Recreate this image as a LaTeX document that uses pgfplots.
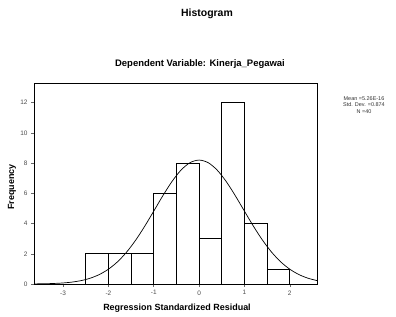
\documentclass[border=0pt]{standalone}
\usepackage{fontspec}
\setmainfont{Liberation Sans}
\usepackage{pgfplots}
\pgfplotsset{compat=1.18}
\begin{document}
\begin{tikzpicture}[x=1bp,y=1bp]
\path[use as bounding box] (0,0) rectangle (396,317);
\begin{axis}[
  at={(34bp,33bp)}, anchor=south west,
  scale only axis, width=283bp, height=201bp,
  xmin=-3.64, xmax=2.6, ymin=0, ymax=13.3,
  xtick={-3,-2,-1,0,1,2}, ytick={0,2,4,6,8,10,12},
  tick align=outside, tick pos=left,
  major tick length=3bp,
  tick style={black!60, line width=0.5pt},
  ticklabel style={font=\fontsize{6.5}{7.5}\selectfont, text=black!70},
  /pgf/number format/assume math mode=true,
  axis line style={black, line width=0.6pt},
  clip=true,
]
\addplot[ybar interval, fill=white, draw=black, line width=0.7pt] coordinates {
(-2.5,2) (-2,2) (-1.5,2) (-1,6) (-0.5,8) (0,3) (0.5,12) (1,4) (1.5,1) (2,1)};
\addplot[black, line width=0.7pt, smooth] coordinates {
(-3.64,0.007) (-3.4,0.018) (-3.2,0.036) (-3.0,0.069) (-2.8,0.127) (-2.6,0.226)
(-2.4,0.384) (-2.2,0.626) (-2.0,0.979) (-1.8,1.465) (-1.6,2.104) (-1.4,2.894)
(-1.2,3.816) (-1.0,4.820) (-0.8,5.836) (-0.6,6.772) (-0.4,7.532) (-0.2,8.028)
(0,8.2) (0.2,8.028) (0.4,7.532) (0.6,6.772) (0.8,5.836) (1.0,4.820)
(1.2,3.816) (1.4,2.894) (1.6,2.104) (1.8,1.465) (2.0,0.979) (2.2,0.626)
(2.4,0.384) (2.6,0.226)};
\end{axis}
\node[font=\bfseries\fontsize{10.5}{12}\selectfont] at (207,303) {Histogram};
\node[font=\bfseries\fontsize{9.5}{11}\selectfont] at (200,253) {Dependent Variable: Kinerja\_Pegawai};
\node[font=\bfseries\fontsize{9}{10}\selectfont] at (177,9) {Regression Standardized Residual};
\node[font=\bfseries\fontsize{9}{10}\selectfont, rotate=90] at (12,130) {Frequency};
\node[font=\fontsize{5.5}{6.5}\selectfont, align=center, text=black!80] at (364,212) {Mean =5.26E-16\\Std. Dev. =0.874\\N =40};
\end{tikzpicture}
\end{document}
